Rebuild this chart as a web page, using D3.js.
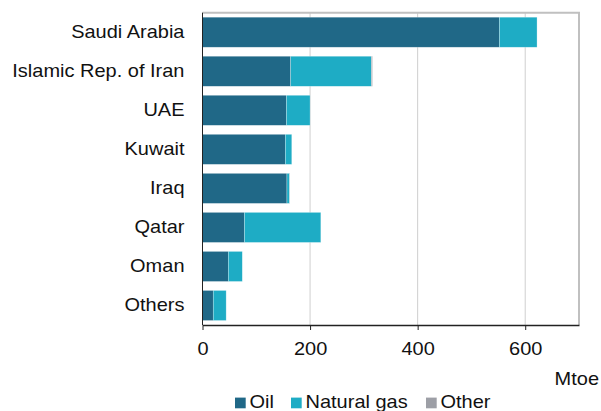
<!DOCTYPE html>
<html><head><meta charset="utf-8">
<script src="https://cdn.jsdelivr.net/npm/d3@7"></script>
<style>body{margin:0;background:#fff;} svg{display:block;font-family:"Liberation Sans",Arial,sans-serif;}</style>
</head><body>
<svg id="c" width="601" height="411"></svg>
<script>
const categories = ["Saudi Arabia","Islamic Rep. of Iran","UAE","Kuwait","Iraq","Qatar","Oman","Others"];
const oil = [552, 164, 156, 154, 157, 78, 48, 20];
const gas = [70, 150, 44, 12, 5, 142, 26, 24];
const other = [0, 2, 0, 0, 0.5, 0, 0, 0];
const seriesNames = ["Oil","Natural gas","Other"];
const colors = ["#206887","#1eacc5","#9d9fa6"];
const xTicks = [0,200,400,600];

const FS = 17.7, SX = 1.13;
const svg = d3.select("#c");
const x = d3.scaleLinear().domain([0,700]).range([202.5,579]);
const y = d3.scaleBand().domain(categories).range([12.7,325]).paddingInner(0.23).paddingOuter(0.115);

// gridlines
svg.append("g").selectAll("line").data(xTicks.slice(1)).join("line")
  .attr("x1",d=>x(d)).attr("x2",d=>x(d)).attr("y1",12.7).attr("y2",325)
  .attr("stroke","#cfcfcf").attr("stroke-width",1);

// frame top/right
svg.append("path").attr("d",`M${x(0)},12.7H579V325`).attr("fill","none").attr("stroke","#c0c0c0").attr("stroke-width",2);

const table = categories.map((c,i)=>({cat:c, vals:[oil[i],gas[i],other[i]]}));
const stack = d3.stack().keys([0,1,2]).value((d,k)=>d.vals[k]);
const stacked = stack(table);

svg.append("g").selectAll("g").data(stacked).join("g")
  .attr("fill",(d,i)=>colors[i])
  .selectAll("rect").data(d=>d).join("rect")
  .attr("x",d=>x(d[0])).attr("width",d=>Math.max(0,x(d[1])-x(d[0])))
  .attr("y",d=>y(d.data.cat)).attr("height",y.bandwidth())
  .attr("stroke","rgba(255,255,255,0.45)").attr("stroke-width",0.6);

// x axis
const xa = svg.append("g").attr("transform","translate(0,325)")
  .call(d3.axisBottom(x).tickValues(xTicks).tickSize(5).tickSizeOuter(0));
xa.select(".domain").attr("stroke","#222").attr("stroke-width",1.5);
xa.selectAll(".tick line").attr("stroke","#222");
xa.selectAll("text").attr("font-size",FS).attr("fill","#111").attr("font-family","Liberation Sans, Arial, sans-serif")
  .attr("y",30).attr("dy",null).attr("transform",`scale(${SX},1)`);

// y axis line
svg.append("line").attr("x1",x(0)).attr("x2",x(0)).attr("y1",12.7).attr("y2",325).attr("stroke","#222").attr("stroke-width",1);

// category labels
svg.append("g").selectAll("text").data(categories).join("text")
  .attr("transform",d=>`translate(184.5,${y(d)+y.bandwidth()/2+6}) scale(${SX},1)`)
  .attr("text-anchor","end").attr("font-size",FS).attr("fill","#111").text(d=>d);

// unit
svg.append("text").attr("transform",`translate(599,385) scale(${SX},1)`).attr("text-anchor","end").attr("font-size",FS).attr("fill","#111").text("Mtoe");

// legend
const legX = [235, 291, 426];
const lg = svg.append("g").selectAll("g").data(seriesNames).join("g")
  .attr("transform",(d,i)=>`translate(${legX[i]},397.6)`);
lg.append("rect").attr("width",10.7).attr("height",10.7).attr("fill",(d,i)=>colors[i]);
lg.append("text").attr("transform",`translate(14.5,10.7) scale(${SX},1)`).attr("font-size",FS).attr("fill","#111").text(d=>d);
</script>
</body></html>
